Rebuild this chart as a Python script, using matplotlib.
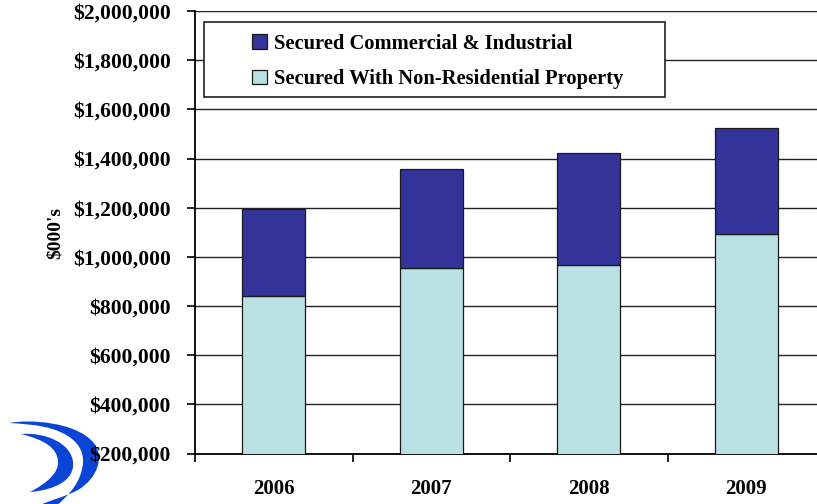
import matplotlib
matplotlib.use("Agg")
import matplotlib.pyplot as plt
from matplotlib.patches import PathPatch, Rectangle, Patch
from matplotlib.path import Path
from matplotlib.ticker import FuncFormatter, FixedLocator
import numpy as np

# Loan balances in thousands of dollars
years = ["2006", "2007", "2008", "2009"]
non_residential = [839000, 954000, 968000, 1094000]
commercial_industrial = [355000, 404000, 455000, 431000]
series_labels = ["Secured Commercial & Industrial", "Secured With Non-Residential Property"]
y_ticks = [200000, 400000, 600000, 800000, 1000000, 1200000, 1400000,
           1600000, 1800000, 2000000]

DARK = "#333399"
LIGHT = "#B9E0E3"
FONT = "Liberation Serif"

W, H = 817, 504
fig = plt.figure(figsize=(W / 100, H / 100), dpi=100)
fig.patch.set_facecolor("white")


def px(x, y):
    """Pixel position (top-left origin) to figure fraction."""
    return x / W, 1 - y / H


ax = fig.add_axes([195 / W, 1 - 453.5 / H, 630 / W, 442.5 / H])

x = np.arange(len(years))
bw = 0.4
ax.bar(x, non_residential, width=bw, color=LIGHT, edgecolor="#1a1a1a",
       linewidth=0.9, zorder=3)
ax.bar(x, commercial_industrial, width=bw, bottom=non_residential, color=DARK,
       edgecolor="#1a1a1a", linewidth=0.9, zorder=3)

ax.set_xlim(-0.5, len(years) - 0.5)
ax.set_ylim(200000, 2000000)
ax.yaxis.set_major_locator(FixedLocator(y_ticks))
ax.yaxis.set_major_formatter(FuncFormatter(lambda v, p: f"${v:,.0f}"))
ax.grid(axis="y", color="#222222", linewidth=1.0, zorder=1)
ax.set_axisbelow(True)

ax.set_xticks(x)
ax.set_xticklabels(years)
ax.set_xticks(np.arange(len(years) + 1) - 0.5, minor=True)
ax.tick_params(axis="x", which="major", length=0, pad=18)
ax.tick_params(axis="x", which="minor", length=6, width=1.2, direction="out",
               color="black")
ax.tick_params(axis="y", length=6, width=1.2, direction="out", pad=11.5,
               color="black")

for lab in ax.get_xticklabels():
    lab.set_fontfamily(FONT)
    lab.set_fontweight("bold")
    lab.set_fontsize(15)
for lab in ax.get_yticklabels():
    lab.set_fontfamily(FONT)
    lab.set_fontweight("bold")
    lab.set_fontsize(15.5)

for s in ["top", "right"]:
    ax.spines[s].set_visible(False)
for s in ["left", "bottom"]:
    ax.spines[s].set_linewidth(1.3)
    ax.spines[s].set_color("black")

fig.text(*px(55, 233), "$000's", rotation=90, ha="center", va="center",
         fontfamily=FONT, fontweight="bold", fontsize=14)

# Legend box
lx0, ly0 = px(204, 97)
lx1, ly1 = px(665, 21.7)
frame = Rectangle((lx0, ly0), lx1 - lx0, ly1 - ly0, transform=fig.transFigure,
                  facecolor="white", edgecolor="#222222", linewidth=1.2,
                  zorder=5)
fig.patches.append(frame)
handles = [Patch(facecolor=DARK, edgecolor="#1a1a1a", linewidth=0.9),
           Patch(facecolor=LIGHT, edgecolor="#1a1a1a", linewidth=0.9)]
leg = fig.legend(handles, series_labels, loc="upper left",
                 bbox_to_anchor=px(244, 25.5), frameon=False,
                 prop={"family": FONT, "weight": "bold", "size": 14.8},
                 handlelength=0.7, handleheight=0.7, handletextpad=0.35,
                 labelspacing=0.75, borderaxespad=0)
leg.set_zorder(6)

# Logo swooshes
def swoosh(pts, codes):
    verts = [px(a, b) for a, b in pts]
    p = PathPatch(Path(verts, codes), transform=fig.transFigure,
                  facecolor="#0b45d6", edgecolor="none", zorder=-1)
    fig.patches.append(p)

C4 = Path.CURVE4
swoosh([(9, 423), (30, 419), (75, 422), (93, 442),
        (105, 456), (98, 478), (78, 490),
        (65, 497), (50, 500), (38, 506),
        (56, 506),
        (68, 496), (82, 482), (83, 462),
        (84, 440), (60, 428), (33, 425),
        (22, 424), (14, 423), (9, 423)],
       [Path.MOVETO, C4, C4, C4, C4, C4, C4, C4, C4, C4, Path.LINETO,
        C4, C4, C4, C4, C4, C4, C4, C4, C4])
swoosh([(21, 434), (45, 432), (71, 443), (73, 462),
        (75, 480), (55, 490), (30, 492),
        (47, 483), (59, 473), (58, 461),
        (57, 448), (45, 440), (21, 434)],
       [Path.MOVETO, C4, C4, C4, C4, C4, C4, C4, C4, C4, C4, C4, C4])

fig.savefig("out.png", dpi=100)
